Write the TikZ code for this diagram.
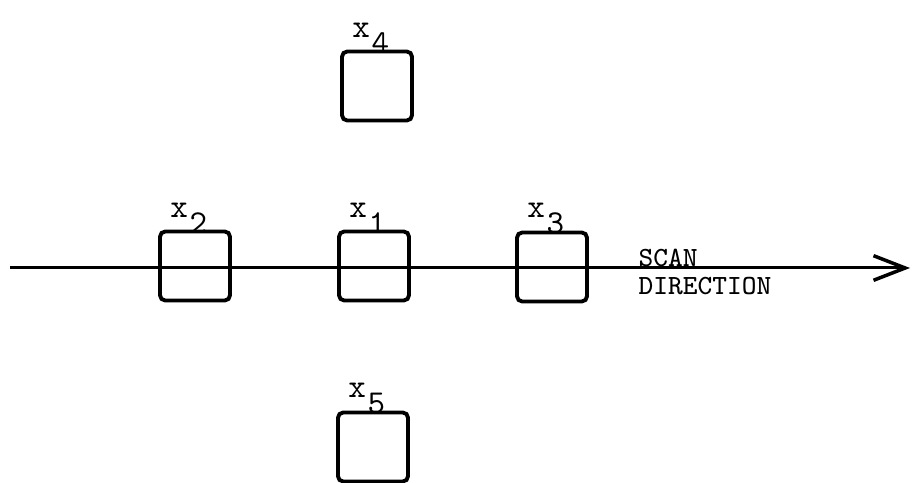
\documentclass[tikz,border=0pt]{standalone}
\usetikzlibrary{arrows.meta,positioning}
\tikzset{
  cell/.style={draw,line width=1.1pt,rounded corners=1.5pt,minimum width=0.7cm,minimum height=0.69cm,inner sep=0pt},
  celllabel/.style={font=\ttfamily\fontsize{9.5}{10}\selectfont,inner sep=0pt},
  scantext/.style={font=\ttfamily\fontsize{7.9}{8.2}\selectfont,align=left,inner sep=0pt}
}
\newcommand{\cellsub}[1]{x\kern0.5pt\raisebox{-1.1ex}{#1}}

\begin{document}
\begin{tikzpicture}[x=0.01cm,y=-0.01cm]
\useasboundingbox (0,0) rectangle (913,483);
% --- cells ---
\foreach \n/\px/\py in {1/374/266,2/195/266,3/552/267,4/377/86,5/373/447}{
  \node[cell] (box\n) at (\px,\py) {};
  \node[celllabel,anchor=south,xshift=-1.8pt,yshift=-1.2pt] (lab\n) at (box\n.north) {\cellsub{\n}};
}

% --- scan line ---
\coordinate (start) at (10,268);
\coordinate (end) at (910,268);
\draw[line width=0.85pt,-{Straight Barb[length=9pt,width=7pt,line width=1pt]}] (start) -- (end);
\node[scantext,anchor=west] (scan) at (638,272) {SCAN\\DIRECTION};
\end{tikzpicture}
\end{document}
